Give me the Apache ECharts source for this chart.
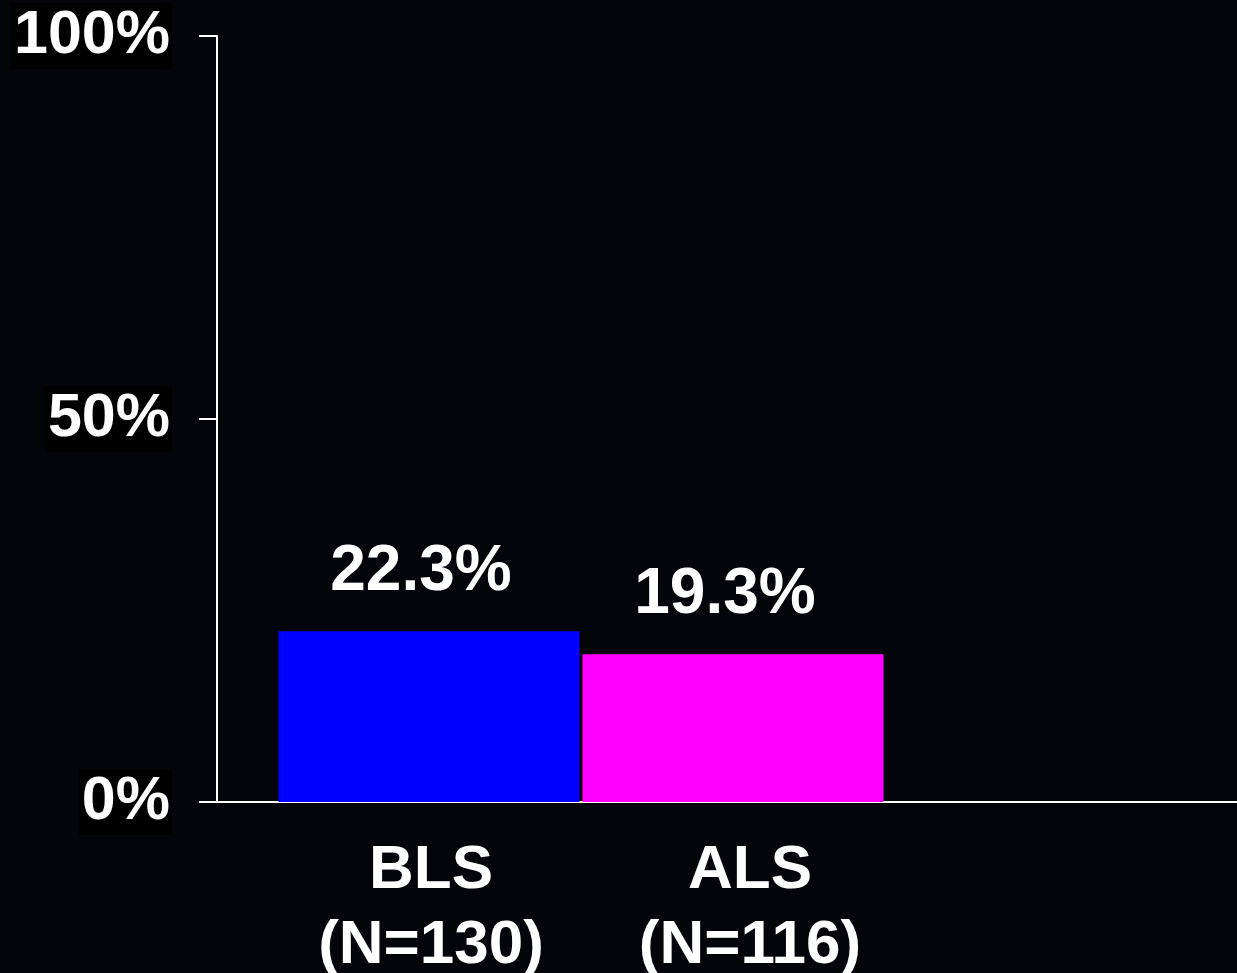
<!DOCTYPE html>
<html>
<head>
<meta charset="utf-8">
<script src="https://cdn.jsdelivr.net/npm/echarts@6/dist/echarts.min.js"></script>
<style>
  html, body { margin: 0; padding: 0; background: #04050a; }
  #chart { width: 1237px; height: 973px; }
</style>
</head>
<body>
<div id="chart"></div>
<script>
// data
const categories = ['BLS', 'ALS']
const sampleSizes = [130, 116]
const rates = [22.3, 19.3]
const barColors = ['#0000ff', '#ff00ff']
const yMax = 100
const yStep = 50

const font = "'Liberation Sans', Arial, sans-serif"
const white = '#ffffff'

const chart = echarts.init(document.getElementById('chart'))

// small per-label nudges so the category text sits like the original
const catPadding = [[0, 0, 0, 4], [0, 0, 0, 34]]

const option = {
  backgroundColor: '#04050a',
  animation: false,
  grid: [
    // full-width frame: y axis + long baseline
    { left: 217, right: 0, top: 36, bottom: 171, outerBoundsMode: 'none' },
    // the bars live in a narrower band
    { left: 277, width: 608, top: 36, bottom: 171, outerBoundsMode: 'none' }
  ],
  xAxis: [
    {
      gridIndex: 0,
      type: 'value',
      min: 0,
      max: 1,
      axisLine: { show: true, lineStyle: { color: white, width: 2 } },
      axisTick: { show: false },
      axisLabel: { show: false },
      splitLine: { show: false }
    },
    {
      gridIndex: 1,
      type: 'category',
      data: categories.map((c, i) => ({
        value: c,
        textStyle: { padding: catPadding[i] }
      })),
      axisLine: { show: false },
      axisTick: { show: false },
      axisLabel: {
        margin: 31,
        color: white,
        fontFamily: font,
        fontWeight: 'bold',
        fontSize: 62,
        lineHeight: 75,
        formatter: (v) => {
          const i = categories.indexOf(v)
          return v + '\n(N=' + sampleSizes[i] + ')'
        }
      }
    }
  ],
  yAxis: [
    {
      gridIndex: 0,
      type: 'value',
      min: 0,
      max: yMax,
      interval: yStep,
      axisLine: { show: true, lineStyle: { color: white, width: 2 } },
      axisTick: { show: true, length: 18, lineStyle: { color: white, width: 2 } },
      splitLine: { show: false },
      axisLabel: {
        margin: 45,
        formatter: '{value}%',
        color: white,
        fontFamily: font,
        fontWeight: 'bold',
        fontSize: 61,
        lineHeight: 58,
        backgroundColor: '#000000',
        padding: [4, 2, 4, 3]
      }
    },
    {
      gridIndex: 1,
      type: 'value',
      min: 0,
      max: yMax,
      show: false
    }
  ],
  series: [
    {
      type: 'bar',
      xAxisIndex: 1,
      yAxisIndex: 1,
      barWidth: 301,
      data: rates.map((v, i) => ({ value: v, itemStyle: { color: barColors[i] } })),
      label: {
        show: true,
        position: 'top',
        distance: 27,
        offset: [-8, 0],
        formatter: '{c}%',
        color: white,
        fontFamily: font,
        fontWeight: 'bold',
        fontSize: 64
      }
    }
  ]
}

chart.setOption(option)
</script>
</body>
</html>
